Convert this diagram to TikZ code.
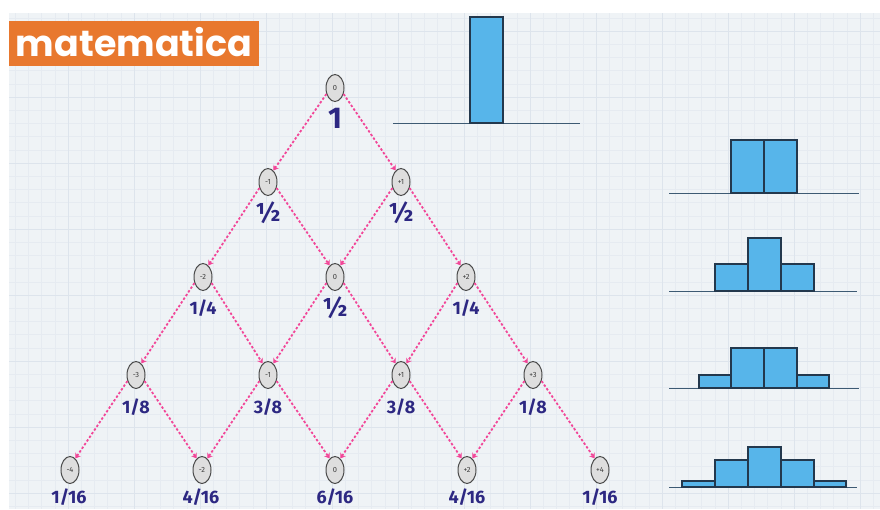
\documentclass[tikz,border=0pt]{standalone}
\usepackage{fontspec}
\usepackage{graphicx}
\setmainfont{Fira Sans}
\newfontfamily\titlefont{Poppins}
\usetikzlibrary{shapes.geometric,arrows.meta}
\definecolor{bgc}{RGB}{239,243,246}
\definecolor{minorc}{RGB}{230,235,241}
\definecolor{majorc}{RGB}{221,228,236}
\definecolor{orangec}{RGB}{232,120,46}
\definecolor{pinkc}{RGB}{242,70,152}
\definecolor{navyc}{RGB}{45,40,130}
\definecolor{barc}{RGB}{87,181,234}
\definecolor{bardraw}{RGB}{35,56,77}
\definecolor{basec}{RGB}{61,90,115}
\tikzset{
  st/.style={ellipse, draw=black!70, fill=black!13, line width=1pt, minimum width=18pt, minimum height=27pt, inner sep=0pt, font=\fontsize{7.5}{7.5}\selectfont, text=black!75},
  lab/.style={font=\bfseries\fontsize{18}{18}\selectfont, text=navyc, inner sep=0pt},
  labbig/.style={font=\bfseries\fontsize{30}{30}\selectfont, text=navyc, inner sep=0pt},
  labhalf/.style={font=\bfseries\fontsize{26}{26}\selectfont, text=navyc, inner sep=0pt},
  edge/.style={pinkc, line width=1.8pt, dash pattern=on 2.4pt off 2pt, -{Stealth[length=5pt,width=6.5pt]}},
  bar/.style={fill=barc, draw=bardraw, line width=1.1pt},
  baseln/.style={draw=basec, line width=1pt},
  minorln/.style={draw=minorc, line width=0.5pt},
  majorln/.style={draw=majorc, line width=0.9pt}
}
\begin{document}
\begin{tikzpicture}[x=1pt,y=-1pt]
\useasboundingbox (0,0) rectangle (880,509);
% background grid
\fill[bgc] (9,13) rectangle (880,509);
\foreach \k in {-24,...,41} {\draw[minorln] ({332+13.2*\k},13) -- ({332+13.2*\k},509);}
\foreach \k in {-6,...,31} {\draw[minorln] (9,{97+13.2*\k}) -- (880,{97+13.2*\k});}
\foreach \k in {-4,...,8} {\draw[majorln] ({332+66*\k},13) -- ({332+66*\k},509);}
\foreach \k in {-1,...,6} {\draw[majorln] (9,{97+66*\k}) -- (880,{97+66*\k});}
% title
\fill[orangec] (9,21) rectangle (259,66);
\node[text=white, inner sep=0pt] (title) at (134,42) {\resizebox{236pt}{!}{\titlefont\bfseries matematica}};
% nodes
\node[st] (a0) at (335,88) {0};
\node[st] (b1) at (268,182) {-1};
\node[st] (b2) at (401,182) {+1};
\node[st] (c1) at (203,277) {-2};
\node[st] (c2) at (335,277) {0};
\node[st] (c3) at (466,277) {+2};
\node[st] (d1) at (136,375) {-3};
\node[st] (d2) at (268,375) {-1};
\node[st] (d3) at (401,375) {+1};
\node[st] (d4) at (533,375) {+3};
\node[st] (e1) at (70,470) {-4};
\node[st] (e2) at (202,470) {-2};
\node[st] (e3) at (335,470) {0};
\node[st] (e4) at (467,470) {+2};
\node[st] (e5) at (600,470) {+4};
% labels
\node[labbig] (la0) at (335,118) {1};
\node[labhalf] (lb1) at (268,213) {½};
\node[labhalf] (lb2) at (401,213) {½};
\node[lab] (lc1) at (203,308) {1/4};
\node[labhalf] (lc2) at (335,308) {½};
\node[lab] (lc3) at (466,308) {1/4};
\node[lab] (ld1) at (136,407) {1/8};
\node[lab] (ld2) at (268,407) {3/8};
\node[lab] (ld3) at (401,407) {3/8};
\node[lab] (ld4) at (533,407) {1/8};
\node[lab] (le1) at (69,497) {1/16};
\node[lab] (le2) at (201,497) {4/16};
\node[lab] (le3) at (335,497) {6/16};
\node[lab] (le4) at (467,497) {4/16};
\node[lab] (le5) at (600,497) {1/16};
% edges
\draw[edge] (a0.215) -- (b1.65);
\draw[edge] (a0.-35) -- (b2.115);
\draw[edge] (b1.215) -- (c1.65);
\draw[edge] (b1.-35) -- (c2.115);
\draw[edge] (b2.215) -- (c2.65);
\draw[edge] (b2.-35) -- (c3.115);
\draw[edge] (c1.215) -- (d1.65);
\draw[edge] (c1.-35) -- (d2.115);
\draw[edge] (c2.215) -- (d2.65);
\draw[edge] (c2.-35) -- (d3.115);
\draw[edge] (c3.215) -- (d3.65);
\draw[edge] (c3.-35) -- (d4.115);
\draw[edge] (d1.215) -- (e1.65);
\draw[edge] (d1.-35) -- (e2.115);
\draw[edge] (d2.215) -- (e2.65);
\draw[edge] (d2.-35) -- (e3.115);
\draw[edge] (d3.215) -- (e3.65);
\draw[edge] (d3.-35) -- (e4.115);
\draw[edge] (d4.215) -- (e4.65);
\draw[edge] (d4.-35) -- (e5.115);
% histograms
\draw[baseln] (393,123) -- (580,123);
\draw[bar] (470,123) rectangle (503,17);
\draw[baseln] (669,193) -- (859,193);
\draw[bar] (731,193) rectangle (764,140);
\draw[bar] (764,193) rectangle (797,140);
\draw[baseln] (669,291) -- (857,291);
\draw[bar] (715,291) rectangle (748,264);
\draw[bar] (748,291) rectangle (781,238);
\draw[bar] (781,291) rectangle (814,264);
\draw[baseln] (669,388) -- (859,388);
\draw[bar] (699,388) rectangle (731,375);
\draw[bar] (731,388) rectangle (764,348);
\draw[bar] (764,388) rectangle (797,348);
\draw[bar] (797,388) rectangle (829,375);
\draw[baseln] (669,487) -- (857,487);
\draw[bar] (682,487) rectangle (715,481);
\draw[bar] (715,487) rectangle (748,460);
\draw[bar] (748,487) rectangle (781,447);
\draw[bar] (781,487) rectangle (814,460);
\draw[bar] (814,487) rectangle (846,481);
\end{tikzpicture}
\end{document}
